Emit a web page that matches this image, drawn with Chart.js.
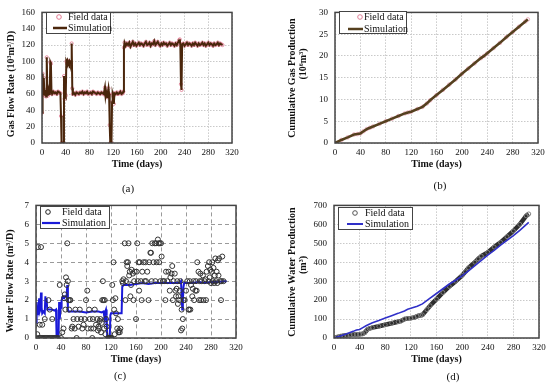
<!DOCTYPE html>
<html>
<head>
<meta charset="utf-8">
<script src="https://cdn.jsdelivr.net/npm/chart.js@4.4.1/dist/chart.umd.min.js"></script>
<style>
  body { margin: 0; background: #fff; width: 550px; height: 386px; position: relative; overflow: hidden; }
  .panel { position: absolute; width: 275px; height: 193px; }
  .cap { position: absolute; font: 11px "Liberation Serif", serif; color: #111; transform: translate(-50%, -50%); }
</style>
</head>
<body>
<div class="panel" style="left:0;top:0"><canvas id="chartA" width="275" height="193"></canvas></div>
<div class="panel" style="left:275px;top:0"><canvas id="chartB" width="275" height="193"></canvas></div>
<div class="panel" style="left:0;top:193px"><canvas id="chartC" width="275" height="193"></canvas></div>
<div class="panel" style="left:275px;top:193px"><canvas id="chartD" width="275" height="193"></canvas></div>
<div class="cap" style="left:128px;top:188px">(a)</div>
<div class="cap" style="left:440px;top:185px">(b)</div>
<div class="cap" style="left:120px;top:375px">(c)</div>
<div class="cap" style="left:453px;top:376px">(d)</div>
<script>
// (a) gas flow rate, 10^3 m3/D
const gasDays = [0,1,2,3,4,5,6,7,8,9,10,11,12,13,14,15,16,17,19,21,23,25,27,29,31,32,33,35,36,37,38,39,40,41,42,43,44,45,46,47,48,49,50,51,52,54,56,58,60,62,64,66,68,70,72,74,76,78,80,82,84,86,88,90,92,94,96,98,100,102,104,106,107,108,110,111,112,113,114,115,116,117,118,119,120,121,122,124,126,128,130,132,134,136,137,138,139,141,143,145,147,149,151,153,155,157,159,161,163,165,167,169,171,173,175,177,179,181,183,185,187,189,191,193,195,197,199,201,203,205,207,209,211,213,215,217,219,221,223,225,227,229,231,232,233,234,235,236,238,240,242,244,246,248,250,252,254,256,258,260,262,264,266,268,270,272,274,276,278,280,282,284,286,288,290,292,294,296,298,300,302,304];
const gasRate = [37,85,60,80,62,58,65,57,105,62,58,64,60,63,99,97,62,60,63,61,62,60,63,62,61,33,0,0,0,82,54,60,58,100,98,101,99,98,100,97,99,98,122,67,60,61,59,62,61,60,62,61,63,60,62,61,63,60,61,62,60,63,62,61,60,62,61,60,62,61,60,68,58,63,56,62,67,60,22,0,0,0,50,60,57,48,61,60,62,60,61,63,60,61,63,117,123,119,122,120,123,118,121,124,120,122,119,121,123,120,122,121,119,122,124,120,121,123,119,122,121,125,120,122,124,121,119,122,120,123,121,122,119,121,123,120,122,121,119,122,120,123,126,127,120,72,65,121,122,119,121,123,120,122,121,119,122,120,123,121,119,122,120,121,123,120,122,119,121,123,120,122,121,119,122,120,121,123,120,122,121,120];

// (b) cumulative gas production, 10^6 m3
const cumGasDays = [0,10,20,30,35,40,45,50,55,60,70,80,90,100,110,115,120,130,138,145,150,160,170,180,190,200,210,220,230,235,240,250,260,270,280,290,300,304];
const cumGas = [0,0.7,1.3,1.95,2.05,2.2,2.7,3.2,3.5,3.8,4.4,5.0,5.6,6.2,6.8,7.0,7.2,7.8,8.3,9.1,9.8,11.0,12.2,13.4,14.6,15.9,17.1,18.3,19.5,20.0,20.6,21.8,23.0,24.3,25.5,26.7,27.9,28.4];

// (c) water flow rate, m3/D
const waterSimDays = [0,1,2,3,4,5,6,7,8,9,10,12,14,15,16,17,18,20,25,30,32,33,36,37,38,39,40,41,43,45,47,49,50,51,52,60,70,80,90,100,105,108,110,111,112,113,114,118,119,120,125,130,137,138,140,150,160,170,180,190,200,210,220,230,232,233,234,235,236,237,240,250,260,270,280,290,300,305];
const waterSim = [0.8,1.9,1.3,1.6,1.2,2.1,1.4,1.5,2.4,1.6,1.3,1.4,1.3,2.2,1.8,2.1,1.5,1.5,1.5,1.45,1.5,0,0,1.9,1.0,1.5,1.6,2.0,2.2,2.1,2.2,2.2,2.8,1.5,1.4,1.4,1.4,1.35,1.4,1.4,1.35,1.4,1.0,1.4,1.5,1.2,0,0,1.2,1.3,1.3,1.3,1.3,2.7,2.8,2.8,2.85,2.9,2.85,2.9,2.9,2.9,2.9,2.9,3.0,3.0,1.5,2.0,2.7,2.9,2.9,2.9,2.95,2.9,2.95,2.95,3.0,3.0];
const waterFieldDays = [1,2,3,5,6,7,8,9,10,11,13,14,15,17,19,20,21,22,23,25,26,27,29,31,33,35,38,40,42,44,45,46,47,48,49,50,51,52,53,54,55,57,58,60,62,63,65,66,68,70,72,74,76,78,80,82,83,85,86,88,90,91,92,94,96,98,99,100,101,102,103,104,105,106,107,108,109,110,111,112,113,115,116,117,118,119,120,121,122,123,124,125,126,127,128,130,131,132,133,134,135,138,139,140,142,143,144,145,146,147,148,149,150,151,152,153,155,156,157,158,160,161,162,163,164,165,166,168,169,170,172,174,175,176,178,180,181,183,184,185,186,188,190,191,192,193,195,196,197,198,199,200,201,203,205,207,208,210,212,214,215,217,218,219,220,222,223,224,225,226,227,228,229,230,231,232,233,234,235,236,238,240,242,244,245,246,247,248,250,251,252,253,255,256,257,258,260,261,262,263,264,265,267,268,270,271,272,273,275,276,277,278,279,280,281,282,283,284,285,286,287,288,289,290,291,292,293,295,296,297,298,300];
const waterField = [0,0.2,4.8,0,0.7,0,4.8,0,0.7,0,0,1.0,0,0,0,2.0,0,1.5,0,0,1.0,0,0,0,0,0,2.8,0,0.3,0.5,2.1,2.3,1.5,3.2,2.8,5.0,3.0,2.0,1.5,2.0,2.0,0.5,0.6,1.0,0.5,1.5,0,1.0,0.6,1.5,1.0,0.5,0.7,1.0,2.0,2.5,0.5,1.5,1.0,0.5,0,1.0,0.5,1.5,0.7,1.0,0.4,0.6,0.5,0.9,1.0,0.3,0.8,2.0,3.0,2.0,0.5,2.0,0.2,1.0,0.6,0,0,0,0,0,0,0,2.8,2.0,4.0,1.5,0.2,2.1,1.3,0.5,1.0,0.3,0.4,0.3,0.5,3.0,2.9,3.1,5.0,2.0,3.0,4.0,3.8,4.0,5.0,3.3,3.5,2.2,2.8,3.6,3.4,2.0,3.0,3.5,1.0,3.5,5.0,3.0,4.0,2.5,4.0,3.0,2.0,3.5,4.0,3.0,4.0,3.0,3.5,2.0,4.0,4.5,4.5,3.0,5.0,4.0,5.0,3.0,5.0,4.0,5.2,5.0,4.0,5.0,3.0,5.0,4.3,3.0,3.0,2.0,3.5,3.0,3.5,2.5,3.2,3.4,3.8,2.0,3.0,3.4,2.5,2.2,2.6,3.0,1.8,2.2,2.0,2.5,3.0,0.4,1.5,0.5,1.0,2.0,2.0,2.5,3.0,1.5,1.5,3.0,1.5,2.8,2.2,2.6,3.0,2.0,2.5,3.0,2.5,4.0,3.5,2.0,3.0,3.4,2.0,3.0,3.3,2.0,3.0,3.1,2.0,3.5,3.8,3.0,4.0,3.2,3.6,2.9,3.5,4.0,3.0,3.7,2.9,3.3,4.2,3.0,3.5,2.9,4.1,3.3,4.2,3.0,2.0,3.0,4.3,3.0];

// (d) cumulative water production, m3
const cumWaterFieldDays = [0,5,10,15,20,25,30,35,40,45,48,52,55,60,70,80,90,100,105,110,115,120,125,130,135,138,145,150,160,170,180,190,200,205,210,220,225,230,240,250,260,270,280,290,300,304];
const cumWaterField = [0,5,9,12,14,16,18,19,20,22,28,45,50,55,62,70,78,86,90,100,103,105,108,115,120,122,150,170,205,240,272,300,330,350,370,400,418,432,452,480,505,535,565,600,645,655];
const cumWaterSimDays = [0,10,20,30,35,40,45,50,60,70,80,90,100,110,115,120,130,138,150,160,170,180,190,200,210,220,230,240,250,260,270,280,290,300,304];
const cumWaterSim = [0,10,22,35,42,45,55,65,80,92,105,118,130,143,152,157,168,180,210,235,260,285,305,328,355,382,410,438,462,490,515,540,568,598,610];

const serif = '"Liberation Serif", "Times New Roman", serif';
const pts = (xs, ys) => xs.map((x, i) => ({ x: x, y: ys[i] }));

const framePlugin = {
  id: 'frame',
  afterDatasetsDraw(chart) {
    const { ctx, chartArea: a } = chart;
    ctx.save();
    ctx.strokeStyle = '#444';
    ctx.lineWidth = 1.5;
    ctx.strokeRect(a.left, a.top, a.right - a.left, a.bottom - a.top);
    ctx.restore();
  }
};

// legend drawn as a bordered box inside the plot
const boxLegend = {
  id: 'boxLegend',
  afterDraw(chart, args, o) {
    const ctx = chart.ctx;
    const [bx, by, bw, bh] = o.box;
    ctx.save();
    ctx.fillStyle = '#fff';
    ctx.fillRect(bx, by, bw, bh);
    ctx.strokeStyle = '#444';
    ctx.lineWidth = 1;
    ctx.strokeRect(bx + 0.5, by + 0.5, bw, bh);
    ctx.font = '10px ' + serif;
    ctx.textBaseline = 'middle';
    o.items.forEach((it, i) => {
      const y = o.rows[i];
      if (it.kind === 'circle') {
        ctx.beginPath();
        ctx.arc(o.markX, y, 2.3, 0, Math.PI * 2);
        ctx.strokeStyle = it.color;
        ctx.lineWidth = 1;
        ctx.stroke();
      } else {
        ctx.beginPath();
        ctx.moveTo(o.lineX[0], y);
        ctx.lineTo(o.lineX[1], y);
        ctx.strokeStyle = it.color;
        ctx.lineWidth = it.width;
        ctx.stroke();
      }
      ctx.fillStyle = '#111';
      ctx.fillText(it.label, o.textX, y);
    });
    ctx.restore();
  }
};

// rotated y axis titles
const yTitle = {
  id: 'yTitle',
  afterDraw(chart, args, o) {
    const ctx = chart.ctx;
    ctx.save();
    ctx.font = 'bold 10px ' + serif;
    ctx.fillStyle = '#111';
    ctx.textAlign = 'center';
    ctx.textBaseline = 'middle';
    o.lines.forEach(l => {
      ctx.save();
      ctx.translate(l.x, l.y);
      ctx.rotate(-Math.PI / 2);
      ctx.fillText(l.text, 0, 0);
      ctx.restore();
    });
    ctx.restore();
  }
};

function makeOptions(c) {
  return {
    responsive: false,
    animation: false,
    layout: { padding: { left: 0, top: c.top, right: c.right, bottom: c.bottom } },
    plugins: {
      legend: { display: false },
      tooltip: { enabled: false },
      boxLegend: c.legend,
      yTitle: { lines: c.yTitle }
    },
    scales: {
      x: {
        type: 'linear', min: 0, max: 320,
        ticks: { stepSize: 40, padding: 4, color: '#111', font: { family: serif, size: 9 }, maxRotation: 0 },
        grid: { color: c.gridColor, drawTicks: false },
        border: { display: false, dash: c.dash },
        title: { display: true, text: 'Time (days)', color: '#111', font: { family: serif, size: 10, weight: 'bold' }, padding: { top: 0, bottom: 4 } },
        afterFit: s => { s.height = 31; }
      },
      y: {
        min: 0, max: c.yMax,
        ticks: { stepSize: c.yStep, padding: 7, color: '#111', font: { family: serif, size: 9 } },
        grid: { color: c.gridColor, drawTicks: false },
        border: { display: false, dash: c.dash },
        afterFit: s => { s.width = c.yW; }
      }
    }
  };
}

const dotted = [1.5, 1.5];
const dashed = [4, 3];

new Chart(document.getElementById('chartA'), {
  type: 'scatter',
  data: {
    datasets: [
      { label: 'Field data', order: 2, data: pts(gasDays, gasRate), pointRadius: 1.6, borderWidth: 0.8, borderColor: '#e07890', backgroundColor: 'rgba(0,0,0,0)' },
      { label: 'Simulation', order: 1, type: 'line', data: pts(gasDays, gasRate), borderColor: '#4a260c', borderWidth: 2, pointRadius: 0 }
    ]
  },
  options: makeOptions({
    top: 9, right: 43, bottom: 19, yW: 42, yMax: 160, yStep: 20, gridColor: '#c9c9c9', dash: dotted,
    yTitle: [{ text: 'Gas Flow Rate (10³m³/D)', x: 11, y: 84 }],
    legend: { box: [46, 12, 64, 21], rows: [17, 28], markX: 59, lineX: [53, 67], textX: 68,
      items: [{ kind: 'circle', color: '#e07890', label: 'Field data' }, { kind: 'line', color: '#4a260c', width: 2.5, label: 'Simulation' }] }
  }),
  plugins: [framePlugin, boxLegend, yTitle]
});

new Chart(document.getElementById('chartB'), {
  type: 'scatter',
  data: {
    datasets: [
      { label: 'Field data', order: 2, data: pts(cumGasDays, cumGas), pointRadius: 1.8, borderWidth: 0.8, borderColor: '#e8a0b0', backgroundColor: 'rgba(0,0,0,0)' },
      { label: 'Simulation', order: 1, type: 'line', data: pts(cumGasDays, cumGas), borderColor: '#55401f', borderWidth: 2.6, pointRadius: 0 }
    ]
  },
  options: makeOptions({
    top: 9, right: 12, bottom: 19, yW: 60, yMax: 30, yStep: 5, gridColor: '#c9c9c9', dash: dotted,
    yTitle: [{ text: 'Cumulative Gas Production', x: 17, y: 78 }, { text: '(10⁶m³)', x: 28, y: 64 }],
    legend: { box: [64, 11, 67, 22], rows: [17, 29], markX: 85, lineX: [73, 88], textX: 89,
      items: [{ kind: 'circle', color: '#e08098', label: 'Field data' }, { kind: 'line', color: '#55401f', width: 2.5, label: 'Simulation' }] }
  }),
  plugins: [framePlugin, boxLegend, yTitle]
});

new Chart(document.getElementById('chartC'), {
  type: 'scatter',
  data: {
    datasets: [
      { label: 'Field data', order: 1, data: pts(waterFieldDays, waterField), pointRadius: 2.5, borderWidth: 1, borderColor: '#333', backgroundColor: 'rgba(0,0,0,0)' },
      { label: 'Simulation', order: 2, type: 'line', data: pts(waterSimDays, waterSim), borderColor: '#1a1ad8', borderWidth: 2, pointRadius: 0 }
    ]
  },
  options: makeOptions({
    top: 11, right: 39, bottom: 17, yW: 36, yMax: 7, yStep: 1, gridColor: '#9a9a9a', dash: dashed,
    yTitle: [{ text: 'Water Flow Rate (m³/D)', x: 10, y: 88 }],
    legend: { box: [40, 13, 69, 22], rows: [19, 30], markX: 48, lineX: [42, 60], textX: 62,
      items: [{ kind: 'circle', color: '#222', label: 'Field data' }, { kind: 'line', color: '#1a1ad8', width: 2.2, label: 'Simulation' }] }
  }),
  plugins: [framePlugin, boxLegend, yTitle]
});

new Chart(document.getElementById('chartD'), {
  type: 'line',
  data: {
    datasets: [
      { label: 'Simulation', data: pts(cumWaterSimDays, cumWaterSim), borderColor: '#3030c8', borderWidth: 1.6, pointRadius: 0 },
      { label: 'Field data', data: pts(cumWaterFieldDays, cumWaterField), borderColor: '#2e2e2e', borderWidth: 4.5, pointRadius: 2, pointBorderColor: '#808080', pointBackgroundColor: 'rgba(0,0,0,0)', pointBorderWidth: 1 }
    ]
  },
  options: makeOptions({
    top: 11, right: 11, bottom: 17, yW: 59, yMax: 700, yStep: 100, gridColor: '#c9c9c9', dash: dotted,
    yTitle: [{ text: 'Cumulative Water Production', x: 17, y: 79 }, { text: '(m³)', x: 28, y: 72 }],
    legend: { box: [63, 14, 74, 22], rows: [20, 31], markX: 80, lineX: [72, 88], textX: 90,
      items: [{ kind: 'circle', color: '#555', label: 'Field data' }, { kind: 'line', color: '#3030c8', width: 2, label: 'Simulation' }] }
  }),
  plugins: [framePlugin, boxLegend, yTitle]
});
</script>
</body>
</html>
